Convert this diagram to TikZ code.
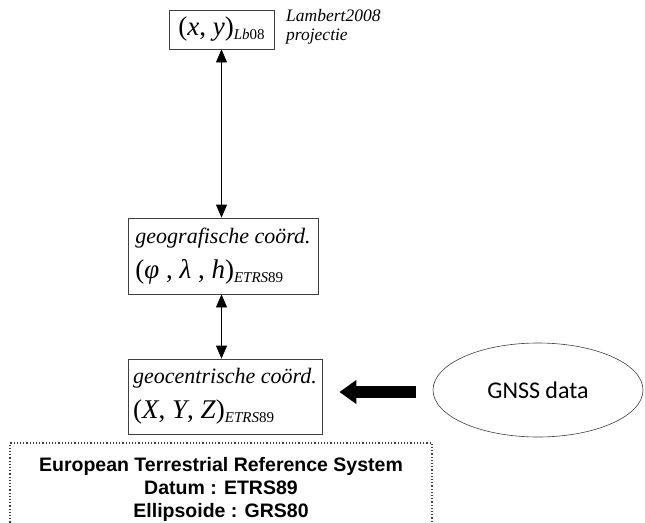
\documentclass[tikz,border=0pt]{standalone}
\usepackage{fontspec}
\setmainfont{Liberation Serif}
\newfontfamily\arialfont{Liberation Sans}
\newfontfamily\gnssfont{Carlito}
\usetikzlibrary{arrows.meta,shapes.geometric,calc}
\newcommand{\sysidx}[1]{\raisebox{-4pt}{\fontsize{15}{15}\selectfont #1}}
\newcommand{\coordfont}{\fontsize{27}{28}\selectfont}
\tikzset{
  cbox/.style={draw=black!75, thick, fill=white, align=left, inner sep=2pt},
  lbl/.style={font=\itshape\fontsize{17.5}{19}\selectfont, align=left, inner sep=0pt},
  dflow/.style={draw=black, thick, {Triangle[length=13pt,width=11pt]}-{Triangle[length=13pt,width=11pt]}},
  bigflow/.style={draw=black, line width=12pt, -{Triangle[length=17pt,width=23pt]}},
  datum/.style={draw=black!75, dotted, very thick, align=center, inner sep=0pt,
    font=\arialfont\bfseries\fontsize{19.5}{23}\selectfont}
}
\begin{document}
\begin{tikzpicture}[x=1pt,y=-1pt]
  \clip (0,0) rectangle (645,522);
  % coordinaatsystemen
  \node[cbox, minimum width=105pt, minimum height=39pt, align=center] (lb) at (221.5,29.5)
    {\coordfont(\textit{x}, \textit{y})\sysidx{\textit{Lb}08}};
  \node[lbl, anchor=west] (proj) at (286,27) {Lambert2008\\projectie};

  \node[cbox, minimum width=190pt, minimum height=76pt] (geo) at (223,256)
    {{\itshape\fontsize{22}{24}\selectfont geografische coörd.}\\[11pt]
     \coordfont(\textit{φ} , \textit{λ} , \textit{h})\sysidx{\textit{ETRS}89}};
  \node[cbox, minimum width=194pt, minimum height=75pt] (gc) at (225,396.5)
    {{\itshape\fontsize{22}{24}\selectfont geocentrische coörd.}\\[11pt]
     \coordfont(\textit{X}, \textit{Y}, \textit{Z})\sysidx{\textit{ETRS}89}};

  % GNSS
  \node[draw=black!75, semithick, ellipse, minimum width=210pt, minimum height=94pt,
        font=\gnssfont\fontsize{24}{26}\selectfont] (gnss) at (538,390) {GNSS data};

  % datum / ellipsoide
  \node[datum, minimum width=422pt, minimum height=92pt] (etrs) at (221,489)
    {European Terrestrial Reference System\\Datum : ETRS89\\Ellipsoide : GRS80};

  % verbindingen
  \draw[dflow] (lb.south) -- (lb.south |- geo.north);
  \draw[dflow] (lb.south |- geo.south) -- (lb.south |- gc.north);
  \draw[bigflow, shorten <=17pt, shorten >=17pt] ($(gnss.west)+(0,2)$) -- ($(gnss.west -| gc.east)+(0,2)$);
\end{tikzpicture}
\end{document}
